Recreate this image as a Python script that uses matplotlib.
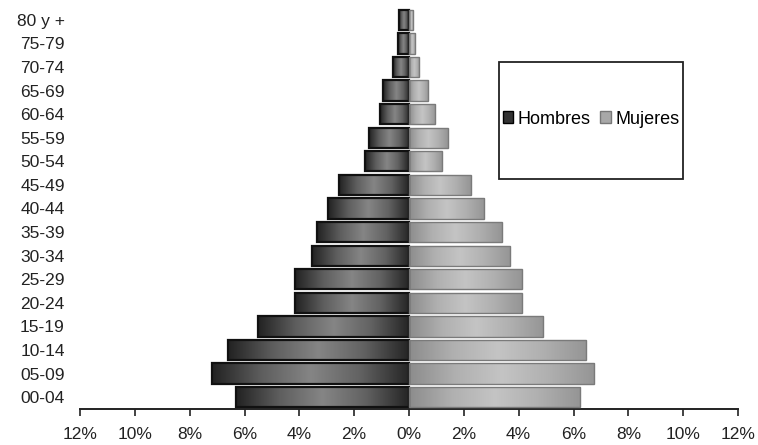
import numpy as np
import matplotlib
matplotlib.use("Agg")
import matplotlib.pyplot as plt
from matplotlib.patches import Rectangle, Patch
from matplotlib.colors import LinearSegmentedColormap

categories = ["00-04", "05-09", "10-14", "15-19", "20-24", "25-29", "30-34", "35-39",
              "40-44", "45-49", "50-54", "55-59", "60-64", "65-69", "70-74", "75-79", "80 y +"]
hombres = [6.3, 7.2, 6.6, 5.5, 4.15, 4.15, 3.55, 3.37, 2.95, 2.55, 1.6, 1.46, 1.06, 0.95, 0.58, 0.4, 0.36]
mujeres = [6.24, 6.75, 6.46, 4.89, 4.12, 4.12, 3.69, 3.39, 2.74, 2.26, 1.2, 1.42, 0.95, 0.7, 0.37, 0.22, 0.15]
xticks = [-12, -10, -8, -6, -4, -2, 0, 2, 4, 6, 8, 10, 12]

plt.rcParams['font.family'] = ['Liberation Sans', 'DejaVu Sans']

fig = plt.figure(figsize=(7.58, 4.45), dpi=100)
ax = fig.add_axes([80/758, 36/445, 658/758, (445-36-8)/445])

cm_h = LinearSegmentedColormap.from_list("h", ["#222222", "#5e5e5e", "#858585", "#626262", "#252525"])
cm_m = LinearSegmentedColormap.from_list("m", ["#8c8c8c", "#b0b0b0", "#c4c4c4", "#b0b0b0", "#959595"])
grad = np.linspace(0, 1, 256).reshape(1, -1)

y = np.arange(len(categories))
h = 0.86
bars_h = ax.barh(y, [-v for v in hombres], height=h, color="none", edgecolor="#111111", linewidth=1.6, zorder=3)
bars_m = ax.barh(y, mujeres, height=h, color="none", edgecolor="#7a7a7a", linewidth=1.0, zorder=3)

for bar in bars_h:
    x0, yb, w, hh = bar.get_x(), bar.get_y(), bar.get_width(), bar.get_height()
    im = ax.imshow(grad, cmap=cm_h, extent=[x0 + w, x0, yb, yb + hh], aspect='auto', zorder=2)
    im.set_clip_path(bar)
for bar in bars_m:
    x0, yb, w, hh = bar.get_x(), bar.get_y(), bar.get_width(), bar.get_height()
    im = ax.imshow(grad, cmap=cm_m, extent=[x0, x0 + w, yb, yb + hh], aspect='auto', zorder=2)
    im.set_clip_path(bar)

ax.set_xlim(-12, 12)
ax.set_ylim(-0.5, len(categories) - 0.5)
ax.set_xticks(xticks)
ax.set_xticklabels([f"{abs(t)}%" for t in xticks], fontsize=12.5, color="#222222")
ax.set_yticks(y)
ax.set_yticklabels(categories, fontsize=12.5, color="#222222")
ax.tick_params(axis='y', length=0, pad=11)
ax.tick_params(axis='x', direction='out', length=5, width=1.2, pad=8, color="#222222")
for s in ["top", "right", "left"]:
    ax.spines[s].set_visible(False)
ax.spines["bottom"].set_linewidth(1.4)
ax.spines["bottom"].set_color("#222222")

# legend box
fig.patches.append(Rectangle((499/758, (445-179)/445), 184/758, 117/445, transform=fig.transFigure,
                             fill=False, edgecolor="#222222", linewidth=1.3, zorder=5))
handles = [Patch(facecolor="#333333", edgecolor="#000000", label="Hombres"),
           Patch(facecolor="#a8a8a8", edgecolor="#777777", label="Mujeres")]
fig.legend(handles=handles, loc="center", bbox_to_anchor=(591/758, 1 - 119/445), ncol=2,
           frameon=False, fontsize=13, handlelength=0.6, handleheight=0.6, handletextpad=0.25,
           columnspacing=0.5, borderpad=0)

fig.savefig("out.png", dpi=100)
